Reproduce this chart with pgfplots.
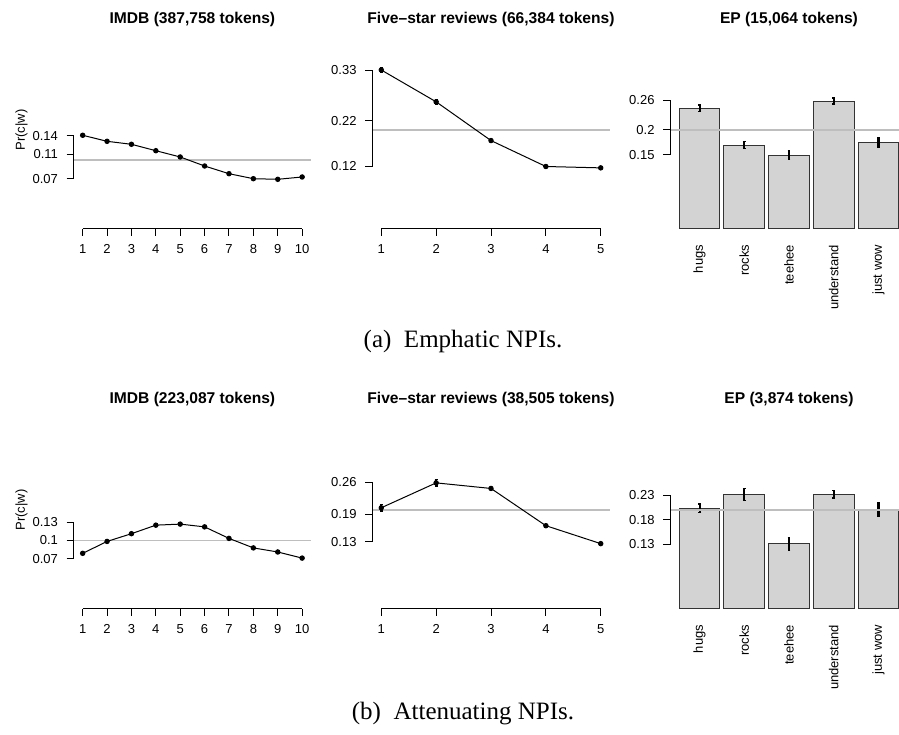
\documentclass[border=0pt]{standalone}
\usepackage{fontspec}
\setmainfont{Liberation Sans}
\newfontfamily\capfont{Liberation Serif}
\usepackage{pgfplots}
\pgfplotsset{compat=1.18}

\definecolor{refgray}{HTML}{BEBEBE}
\definecolor{barfill}{HTML}{D3D3D3}

\tikzset{rax/.style={black, line width=0.5pt}}

% R base-graphics look: 1 px of the reference = 0.5pt
\pgfplotsset{
  rpanel/.style={
    scale only axis, width=118.5pt, height=98.8pt,
    anchor=south west,
    axis x line*=bottom, axis y line*=left,
    axis line style={draw=none},
    tick align=outside, major tick length=3.6pt,
    tick style={black, line width=0.5pt},
    tick label style={font=\fontsize{6.5}{7.5}\selectfont, inner sep=0pt},
    /pgf/number format/assume math mode=true,
    xticklabel style={anchor=north},
    yticklabel style={anchor=east},
    xticklabel shift=4.3pt,
    yticklabel shift=4.2pt,
    clip=false,
    title style={at={(0.5,1)}, anchor=base, yshift=-2pt,
      font=\bfseries\fontsize{7.8}{9}\selectfont},
  },
  barpanel/.style={
    rpanel,
    xmin=0.349, xmax=5.651, ymin=0, ymax=0.4,
    xtick={1,...,5},
    xticklabels={hugs,rocks,teehee,understand,just wow},
    xticklabel style={rotate=90, anchor=east},
    x tick style={draw=none},
  },
  ref/.style={refgray, line width=0.9pt},
  rline/.style={black, line width=0.5pt, mark=*, mark size=1.1pt},
  rbar/.style={ybar, bar width=0.909, fill=barfill, draw=black!80,
    line width=0.5pt,
    error bars/.cd, y dir=both, y explicit,
    error bar style={line width=1.1pt, black},
    error mark options={rotate=90, mark size=0.7pt, line width=0.6pt, black}},
  rerr/.style={error bars/.cd, y dir=both, y explicit,
    error bar style={line width=1.1pt, black},
    error mark options={rotate=90, mark size=0.7pt, line width=0.6pt, black}},
}

\begin{document}
\begin{tikzpicture}
\path[use as bounding box] (0,0) rectangle (449.5pt,-367pt);

% ---------- (a) Emphatic ----------
\begin{axis}[rpanel, at={(36.95pt,-114.35pt)},
  xmin=0.64, xmax=10.36, ymin=-0.012, ymax=0.312,
  xtick={1,...,10},
  ytick={0.07,0.11,0.14}, yticklabels={0.07,0.11,0.14},
  title={IMDB (387,758 tokens)}]
\addplot[ref] coordinates {(0.64,0.1) (10.36,0.1)};
\addplot[rline] coordinates {
  (1,0.1412) (2,0.1313) (3,0.1264) (4,0.1159) (5,0.1056)
  (6,0.0908) (7,0.0782) (8,0.0700) (9,0.0690) (10,0.0728)};
\draw[rax] (axis cs:1,-0.012) -- (axis cs:10,-0.012);
\draw[rax] (axis cs:0.64,0.07) -- (axis cs:0.64,0.14);
\end{axis}

\begin{axis}[rpanel, at={(186.25pt,-114.35pt)},
  xmin=0.84, xmax=5.16, ymin=-0.016, ymax=0.416,
  xtick={1,...,5},
  ytick={0.12,0.22,0.33}, yticklabels={0.12,0.22,0.33},
  title={Five\textendash star reviews (66,384 tokens)}]
\addplot[ref] coordinates {(0.84,0.2) (5.16,0.2)};
\addplot[rline, rerr] coordinates {
  (1,0.331) +- (0,0.006) (2,0.2614) +- (0,0.005) (3,0.1767) +- (0,0)
  (4,0.120) +- (0,0) (5,0.117) +- (0,0)};
\draw[rax] (axis cs:1,-0.016) -- (axis cs:5,-0.016);
\draw[rax] (axis cs:0.84,0.12) -- (axis cs:0.84,0.33);
\end{axis}

\begin{axis}[barpanel, at={(335.25pt,-114.35pt)},
  ytick={0.15,0.2,0.26}, yticklabels={0.15,0.2,0.26},
  title={EP (15,064 tokens)}]
\addplot[rbar] coordinates {
  (1,0.2437) +- (0,0.0067) (2,0.1694) +- (0,0.0074) (3,0.1492) +- (0,0.008)
  (4,0.2585) +- (0,0.006) (5,0.1741) +- (0,0.0095)};
\addplot[ref] coordinates {(0.349,0.2) (5.651,0.2)};
\draw[rax] (axis cs:0.349,0.15) -- (axis cs:0.349,0.26);
\end{axis}

% ---------- (b) Attenuating ----------
\begin{axis}[rpanel, at={(36.95pt,-304.35pt)},
  xmin=0.64, xmax=10.36, ymin=-0.012, ymax=0.312,
  xtick={1,...,10},
  ytick={0.07,0.1,0.13}, yticklabels={0.07,0.1,0.13},
  title={IMDB (223,087 tokens)}]
\addplot[ref] coordinates {(0.64,0.1) (10.36,0.1)};
\addplot[rline] coordinates {
  (1,0.0788) (2,0.0983) (3,0.111) (4,0.125) (5,0.1267)
  (6,0.1222) (7,0.1033) (8,0.0877) (9,0.081) (10,0.071)};
\draw[rax] (axis cs:1,-0.012) -- (axis cs:10,-0.012);
\draw[rax] (axis cs:0.64,0.07) -- (axis cs:0.64,0.13);
\end{axis}

\begin{axis}[rpanel, at={(186.25pt,-304.35pt)},
  xmin=0.84, xmax=5.16, ymin=-0.016, ymax=0.416,
  xtick={1,...,5},
  ytick={0.13,0.19,0.26}, yticklabels={0.13,0.19,0.26},
  title={Five\textendash star reviews (38,505 tokens)}]
\addplot[ref] coordinates {(0.84,0.2) (5.16,0.2)};
\addplot[rline, rerr] coordinates {
  (1,0.2047) +- (0,0.007) (2,0.2591) +- (0,0.007) (3,0.2469) +- (0,0.005)
  (4,0.1655) +- (0,0) (5,0.1263) +- (0,0)};
\draw[rax] (axis cs:1,-0.016) -- (axis cs:5,-0.016);
\draw[rax] (axis cs:0.84,0.13) -- (axis cs:0.84,0.26);
\end{axis}

\begin{axis}[barpanel, at={(335.25pt,-304.35pt)},
  ytick={0.13,0.18,0.23}, yticklabels={0.13,0.18,0.23},
  title={EP (3,874 tokens)}]
\addplot[rbar] coordinates {
  (1,0.203) +- (0,0.009) (2,0.231) +- (0,0.012) (3,0.131) +- (0,0.012)
  (4,0.232) +- (0,0.008) (5,0.201) +- (0,0.0145)};
\addplot[ref] coordinates {(0.349,0.2) (5.651,0.2)};
\draw[rax] (axis cs:0.349,0.13) -- (axis cs:0.349,0.23);
\end{axis}

% y labels and captions
\node[rotate=90, anchor=base, font=\fontsize{6.5}{7.5}\selectfont]
  at (12.5pt,-65pt) {Pr(c|w)};
\node[rotate=90, anchor=base, font=\fontsize{6.5}{7.5}\selectfont]
  at (12.5pt,-255pt) {Pr(c|w)};
\node[anchor=base, font=\capfont\fontsize{12.5}{15}\selectfont]
  at (231.5pt,-173.5pt) {(a)\enspace Emphatic NPIs.};
\node[anchor=base, font=\capfont\fontsize{12.5}{15}\selectfont]
  at (231.5pt,-359.6pt) {(b)\enspace Attenuating NPIs.};
\end{tikzpicture}
\end{document}
